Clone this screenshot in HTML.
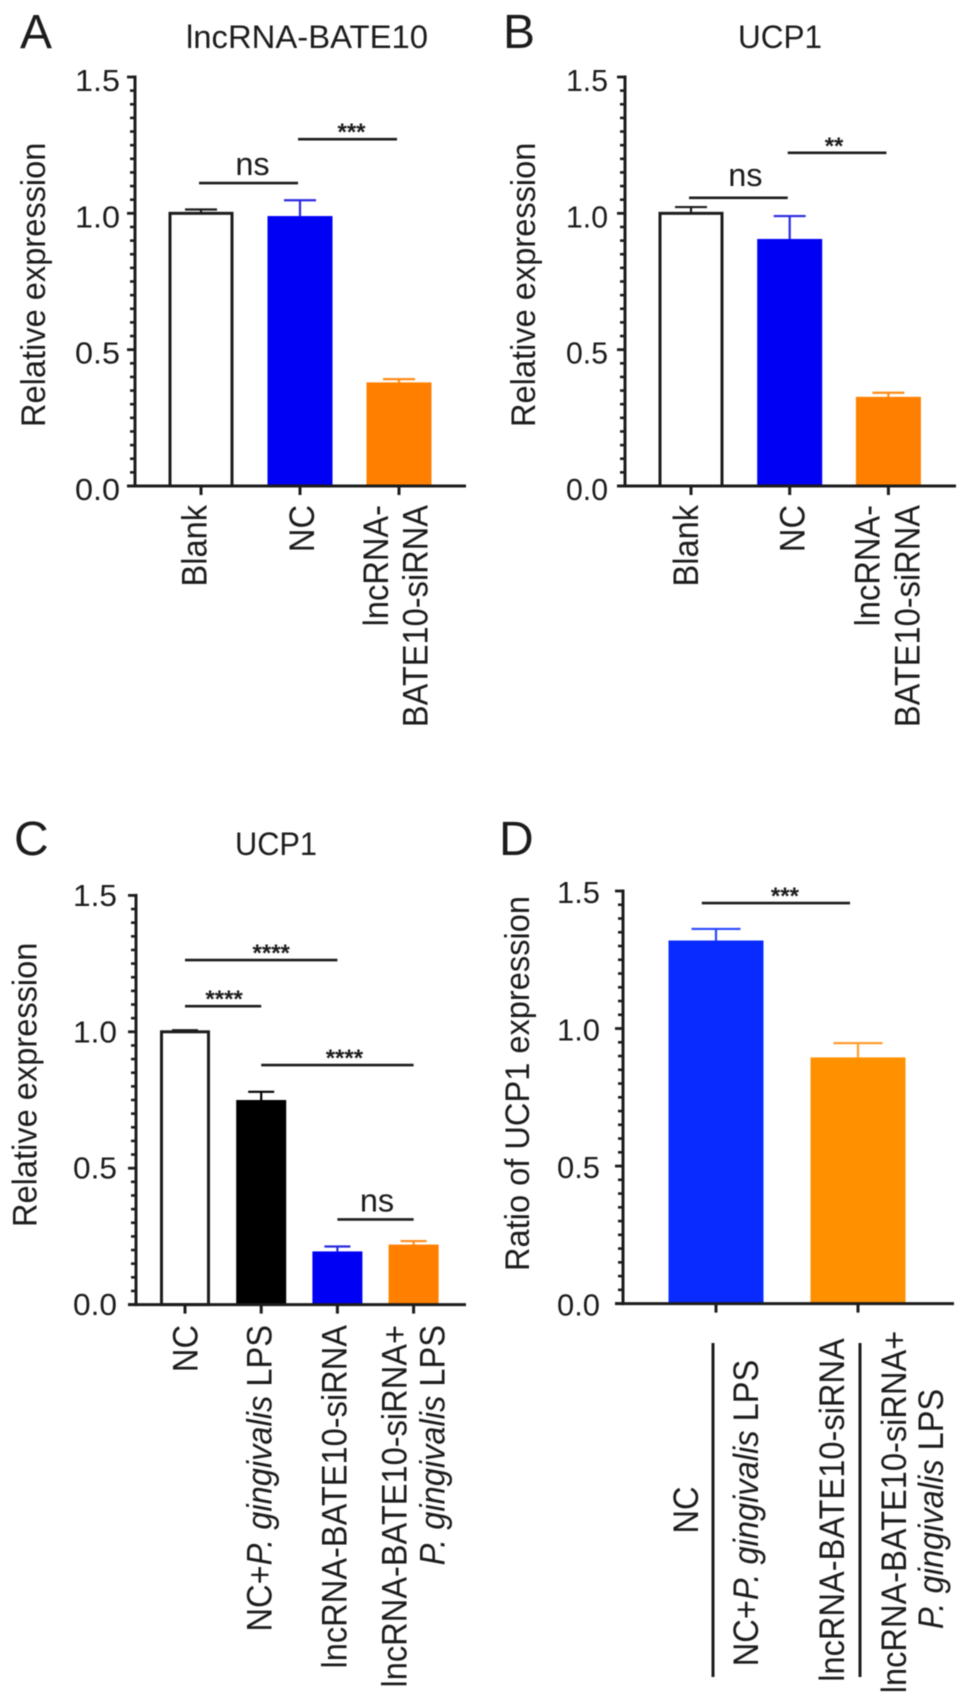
<!DOCTYPE html>
<html lang="en">
<head>
<meta charset="utf-8">
<title>lncRNA-BATE10 and UCP1 relative expression</title>
<style>
html,body{margin:0;padding:0;background:#fff;}
svg{display:block;filter:blur(0.4px);}
text{font-family:"Liberation Sans",sans-serif;fill:#1c1c1c;}
</style>
</head>
<body>
<svg id="figure" xmlns="http://www.w3.org/2000/svg" width="969" height="1704" viewBox="0 0 969 1704"></svg>
<script>
// ---- chart data ----
const yTickLabels = ['0.0', '0.5', '1.0', '1.5'];
const yTickValues = [0, 0.5, 1, 1.5];

const panelACategories = [[['Blank', 0]], [['NC', 0]], [['lncRNA-', 0]], [['BATE10-siRNA', 0]]];
const panelAValues = [1.0, 0.99, 0.38];
const panelAErrorTops = [1.014, 1.048, 0.392];

const panelBValues = [1.0, 0.906, 0.327];
const panelBErrorTops = [1.023, 0.99, 0.342];

const panelCValues = [1.0, 0.75, 0.195, 0.22];
const panelCErrorTops = [1.006, 0.78, 0.213, 0.233];

const panelDValues = [1.32, 0.895];
const panelDErrorTops = [1.362, 0.947];

const panelASigFrom = [-0.02, 0.98];
const panelASigTo = [0.98, 1.98];
const panelASigLevels = [1.111, 1.272];
const panelASigLabels = ['ns', '***'];

const panelBSigFrom = [-0.02, 0.98];
const panelBSigTo = [0.98, 1.98];
const panelBSigLevels = [1.057, 1.222];
const panelBSigLabels = ['ns', '**'];

const panelCSigFrom = [0, 0, 1, 2];
const panelCSigTo = [2, 1, 3, 3];
const panelCSigLevels = [1.263, 1.094, 0.878, 0.312];
const panelCSigLabels = ['****', '****', '****', 'ns'];

const panelDSigFrom = [-0.1];
const panelDSigTo = [0.944];
const panelDSigLevels = [1.456];
const panelDSigLabels = ['***'];

const svg = document.getElementById('figure');
const NS = 'http://www.w3.org/2000/svg';
const INK = '#1c1c1c';

function add(tag, name, attrs) {
  const el = document.createElementNS(NS, tag);
  
  
  for (const k in attrs) el.setAttribute(k, attrs[k]);
  svg.appendChild(el);
  return el;
}
function line(name, x1, y1, x2, y2, color, w) {
  return add('line', name, {x1: x1, y1: y1, x2: x2, y2: y2, stroke: color, 'stroke-width': w});
}
function label(name, content, attrs) {
  const el = add('text', name, attrs);
  el.textContent = content;
  return el;
}
function rotated(name, segs, baseX, y, anchor, size, stretch) {
  const el = add('text', name, {
    transform: 'translate(' + baseX + ',' + y + ') rotate(-90) scale(1,' + stretch + ')',
    'text-anchor': anchor,
    'font-size': size
  });
  segs.forEach(function (s) {
    const t = document.createElementNS(NS, 'tspan');
    
    
    if (s[1]) t.setAttribute('font-style', 'italic');
    t.textContent = s[0];
    el.appendChild(t);
  });
  return el;
}

function drawPanel(p) {
  const y = function (v) { return p.y0 - (v / 1.5) * p.h; };
  const x = function (i) { return p.xStart + i * p.step; };

  label('panel-letter-' + p.id, p.id, {x: p.letterX, y: p.letterY, 'font-size': 48});
  if (p.title) label('panel-title-' + p.id, p.title, {x: p.titleX, y: p.titleY, 'font-size': 32, textLength: p.titleLen, lengthAdjust: 'spacingAndGlyphs'});
  rotated('y-axis-title-' + p.id, [[p.yTitle, 0]], p.yTitleX, p.yTitleBottom, 'start', 32.6, 1.04);

  // bars
  p.values.forEach(function (v, i) {
    const left = x(i) - p.barW / 2;
    if (p.outline[i]) {
      add('rect', 'bar-' + p.id + '-' + (i + 1), {x: left + 1.5, y: y(v), width: p.barW - 3, height: p.y0 - y(v), fill: '#fff', stroke: INK, 'stroke-width': 3});
    } else {
      add('rect', 'bar-' + p.id + '-' + (i + 1), {x: left, y: y(v), width: p.barW, height: p.y0 - y(v), fill: p.colors[i]});
    }
    const ec = p.outline[i] ? INK : p.errColors[i];
    line('error-stem-' + p.id + '-' + (i + 1), x(i), y(v), x(i), y(p.errors[i]), ec, 2.2);
    line('error-cap-' + p.id + '-' + (i + 1), x(i) - p.capW / 2, y(p.errors[i]), x(i) + p.capW / 2, y(p.errors[i]), ec, 2.2);
  });

  // y axis
  line('y-axis-' + p.id, p.axisX, y(1.5) - 1.5, p.axisX, p.y0 + 1.5, INK, 3);
  for (let m = 0; m <= 30; m++) {
    const val = m * 0.05;
    const major = m % 10 === 0;
    line(major ? 'y-major-tick' : 'y-minor-tick', p.axisX - (major ? 8 : 5), y(val), p.axisX, y(val), INK, major ? 2.8 : 2.6);
  }
  yTickValues.forEach(function (v, i) {
    label('y-tick-label-' + yTickLabels[i], yTickLabels[i], {
      x: p.axisX - p.tickGap, y: y(v) + p.tickDy, 'font-size': 31, 'text-anchor': 'end',
      textLength: p.tickLen, lengthAdjust: 'spacingAndGlyphs'
    });
  });

  // x axis
  line('x-axis-' + p.id, p.axisX - 8, p.y0, p.axisRight, p.y0, INK, 3);
  p.values.forEach(function (v, i) {
    line('x-tick-' + p.id + '-' + (i + 1), x(i), p.y0, x(i), p.y0 + 9, INK, 3);
  });

  // category labels
  p.catLabels.forEach(function (c) {
    rotated('x-category-label', c.segs, x(c.tick) + c.dx, c.y, c.anchor, 32.6, 1.07);
  });

  // significance brackets
  p.sigLabels.forEach(function (t, i) {
    const x1 = x(p.sigFrom[i]);
    const x2 = x(p.sigTo[i]);
    const ly = y(p.sigLevels[i]);
    line('significance-line', x1, ly, x2, ly, INK, 2.6);
    const cx = (x1 + x2) / 2 + p.sigDx[i];
    if (t === 'ns') {
      label('significance-ns', t, {x: cx, y: ly + p.nsDy, 'font-size': 32.5, 'text-anchor': 'middle'});
    } else {
      label('significance-stars', t, {x: cx, y: ly + 1, 'font-size': 24, 'font-weight': 'bold', 'text-anchor': 'middle'});
    }
  });
}

const siRNA = 'lncRNA-BATE10-siRNA';

drawPanel({
  id: 'A', title: 'lncRNA-BATE10', titleX: 186, titleY: 48, titleLen: 242, letterX: 20, letterY: 48,
  yTitle: 'Relative expression', yTitleX: 45, yTitleBottom: 427,
  axisX: 135, axisRight: 466, y0: 486, h: 409, xStart: 201, step: 99, barW: 65, capW: 32,
  tickGap: 15, tickDy: 14, tickLen: 45, nsDy: -8,
  values: panelAValues, errors: panelAErrorTops, outline: [true, false, false],
  colors: ['#fff', '#0000f5', '#ff8000'], errColors: ['#000', '#2a2ae0', '#ff8c1a'],
  sigFrom: panelASigFrom, sigTo: panelASigTo, sigLevels: panelASigLevels, sigLabels: panelASigLabels, sigDx: [4, 4],
  catLabels: [
    {tick: 0, dx: 5.7, y: 505, anchor: 'end', segs: panelACategories[0]},
    {tick: 1, dx: 14, y: 505, anchor: 'end', segs: panelACategories[1]},
    {tick: 2, dx: -11, y: 505, anchor: 'end', segs: panelACategories[2]},
    {tick: 2, dx: 28.7, y: 505, anchor: 'end', segs: panelACategories[3]}
  ]
});

drawPanel({
  id: 'B', title: 'UCP1', titleX: 738, titleY: 48, titleLen: 84, letterX: 503, letterY: 48,
  yTitle: 'Relative expression', yTitleX: 535, yTitleBottom: 427,
  axisX: 625, axisRight: 956, y0: 486, h: 409, xStart: 691, step: 98.7, barW: 65, capW: 32,
  tickGap: 17, tickDy: 14, tickLen: 42, nsDy: -12,
  values: panelBValues, errors: panelBErrorTops, outline: [true, false, false],
  colors: ['#fff', '#0000f5', '#ff8000'], errColors: ['#000', '#2a2ae0', '#ff8c1a'],
  sigFrom: panelBSigFrom, sigTo: panelBSigTo, sigLevels: panelBSigLevels, sigLabels: panelBSigLabels, sigDx: [7, -3],
  catLabels: [
    {tick: 0, dx: 7, y: 505, anchor: 'end', segs: [['Blank', 0]]},
    {tick: 1, dx: 15, y: 505, anchor: 'end', segs: [['NC', 0]]},
    {tick: 2, dx: -9, y: 505, anchor: 'end', segs: [['lncRNA-', 0]]},
    {tick: 2, dx: 31, y: 505, anchor: 'end', segs: [['BATE10-siRNA', 0]]}
  ]
});

drawPanel({
  id: 'C', title: 'UCP1', titleX: 235, titleY: 855, titleLen: 82, letterX: 14, letterY: 855,
  yTitle: 'Relative expression', yTitleX: 36.7, yTitleBottom: 1227,
  axisX: 136, axisRight: 466, y0: 1304.6, h: 409.2, xStart: 185, step: 76.2, barW: 50, capW: 26,
  tickGap: 19, tickDy: 10.5, tickLen: 44, nsDy: -8,
  values: panelCValues, errors: panelCErrorTops, outline: [true, false, false, false],
  colors: ['#fff', '#000', '#0000f5', '#ff8000'], errColors: ['#000', '#000', '#2a2ae0', '#ff8c1a'],
  sigFrom: panelCSigFrom, sigTo: panelCSigTo, sigLevels: panelCSigLevels, sigLabels: panelCSigLabels, sigDx: [10, 1, 7, 1.5],
  catLabels: [
    {tick: 0, dx: 12.7, y: 1325, anchor: 'end', segs: [['NC', 0]]},
    {tick: 1, dx: 10.5, y: 1325, anchor: 'end', segs: [['NC+', 0], ['P. gingivalis', 1], [' LPS', 0]]},
    {tick: 2, dx: 9, y: 1325, anchor: 'end', segs: [[siRNA, 0]]},
    {tick: 3, dx: -7, y: 1325, anchor: 'end', segs: [[siRNA + '+', 0]]},
    {tick: 3, dx: 31, y: 1325, anchor: 'end', segs: [['P. gingivalis', 1], [' LPS', 0]]}
  ]
});

drawPanel({
  id: 'D', title: '', letterX: 499, letterY: 855,
  yTitle: 'Ratio of UCP1 expression', yTitleX: 529, yTitleBottom: 1271,
  axisX: 623, axisRight: 954, y0: 1303.6, h: 412.6, xStart: 716, step: 142, barW: 95, capW: 49,
  tickGap: 23, tickDy: 12, tickLen: 43, nsDy: -8,
  values: panelDValues, errors: panelDErrorTops, outline: [false, false],
  colors: ['#0a2bff', '#ff9100'], errColors: ['#2a48ff', '#ff9d2e'],
  sigFrom: panelDSigFrom, sigTo: panelDSigTo, sigLevels: panelDSigLevels, sigLabels: panelDSigLabels, sigDx: [9],
  catLabels: [
    {tick: 0, dx: -18, y: 1510, anchor: 'middle', segs: [['NC', 0]]},
    {tick: 0, dx: 42, y: 1513, anchor: 'middle', segs: [['NC+', 0], ['P. gingivalis', 1], [' LPS', 0]]},
    {tick: 1, dx: -14, y: 1510, anchor: 'middle', segs: [[siRNA, 0]]},
    {tick: 1, dx: 48, y: 1512, anchor: 'middle', segs: [[siRNA + '+', 0]]},
    {tick: 1, dx: 85, y: 1509, anchor: 'middle', segs: [['P. gingivalis', 1], [' LPS', 0]]}
  ]
});

// group divider rules under panel D
const dividerTop = 1343;
const dividerBottom = 1677;
line('category-divider-1', 713, dividerTop, 713, dividerBottom, INK, 3);
line('category-divider-2', 860, dividerTop, 860, dividerBottom, INK, 3);
</script>
</body>
</html>
